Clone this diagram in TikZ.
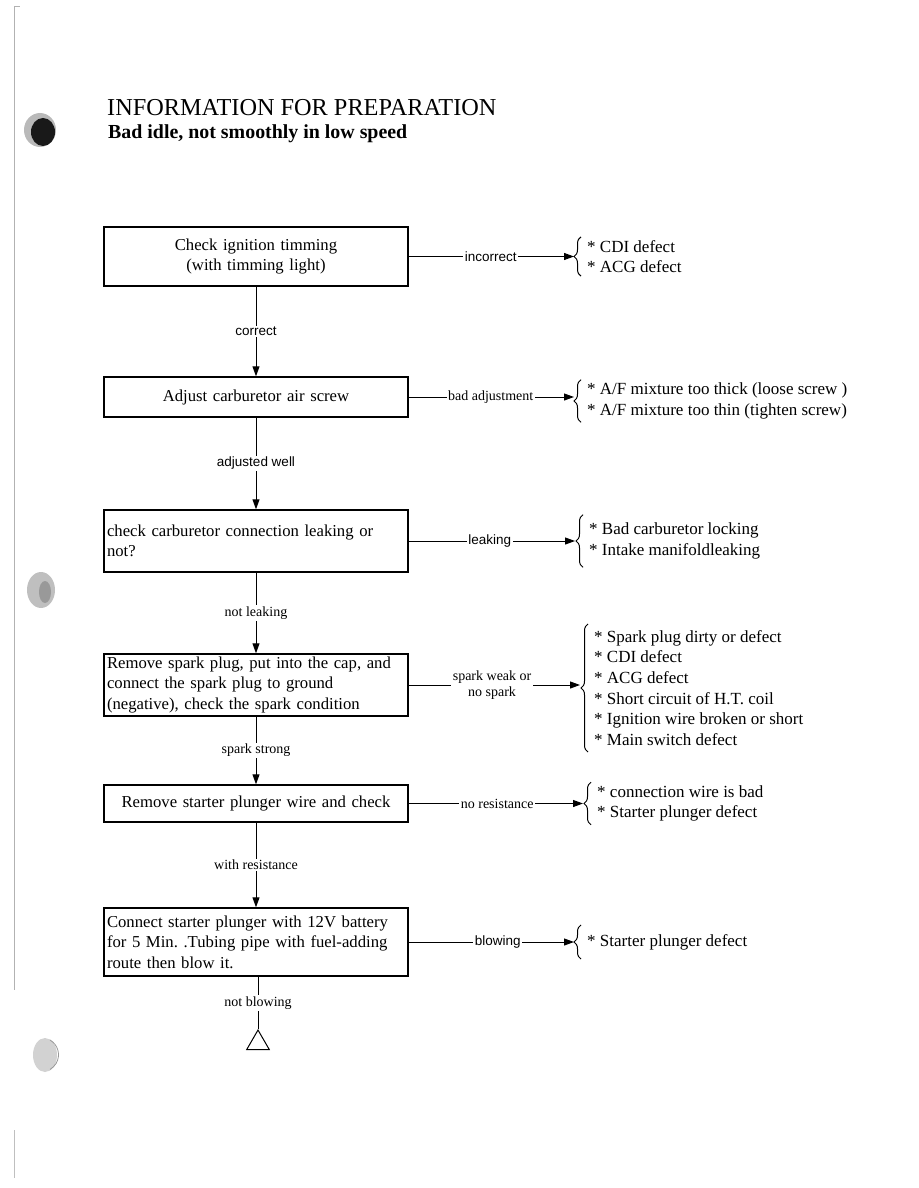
\documentclass[tikz,border=0pt]{standalone}
\usepackage{fontspec}
\setmainfont{Liberation Serif}
\newfontfamily\labsans{Liberation Sans}
\usetikzlibrary{arrows.meta,decorations.pathreplacing,calc,shapes.geometric}
\frenchspacing
\begin{document}
\begin{tikzpicture}[x=1pt,y=-1pt,
 stepbox/.style={draw, line width=1.4pt, minimum width=304pt, text width=298pt, inner xsep=3pt, inner ysep=0pt, font=\fontsize{16.7}{20.6}\selectfont},
 cbox/.style={stepbox, align=center},
 lbox/.style={stepbox, align=left},
 lab/.style={fill=white, inner sep=1.5pt, font=\fontsize{14}{15}\selectfont},
 slab/.style={lab, font=\labsans\fontsize{13.5}{14}\selectfont},
 flow/.style={line width=1pt, -{Triangle[length=10pt,width=7pt]}},
 items/.style={anchor=west, align=left, inner sep=0pt, font=\fontsize{17}{20.7}\selectfont},
 brc/.style={decorate, decoration={brace, amplitude=7pt}, line width=1pt},
]
\useasboundingbox (0,0) rectangle (918,1188);
% scan artifacts: page edge and punch holes
\draw[gray!60, line width=0.6pt] (14,6) -- (20,6);
\draw[gray!60, line width=0.6pt] (14,6) -- (14,990);
\draw[gray!50, line width=0.5pt] (14,1130) -- (14,1178);
\fill[gray!55] (40,130) ellipse [x radius=16pt, y radius=17pt];
\fill[black!90] (43,132) ellipse [x radius=12pt, y radius=14pt];
\fill[gray!50] (41,590) ellipse [x radius=14pt, y radius=18pt];
\fill[gray!80] (45,592) ellipse [x radius=6pt, y radius=11pt];
\fill[gray!35] (45,1055) ellipse [x radius=12pt, y radius=17pt];
\draw[gray!80, line width=0.8pt] (50,1040) arc [start angle=60, end angle=-60, radius=17pt];

% header
\node[anchor=base west, inner sep=0pt, font=\fontsize{24.3}{27}\selectfont] (title) at (107,116) {INFORMATION FOR PREPARATION};
\node[anchor=base west, inner sep=0pt, font=\bfseries\fontsize{19.9}{22}\selectfont] (sub) at (108,139) {Bad idle, not smoothly in low speed};

% boxes
\node[cbox, minimum height=59pt] (b1) at (256,256.5) {Check ignition timming\\(with timming light)};
\node[cbox, minimum height=40pt] (b2) at (256,397) {Adjust carburetor air screw};
\node[lbox, minimum height=62pt] (b3) at (256,541) {check carburetor connection leaking or\\not?};
\node[lbox, minimum height=62pt] (b4) at (256,685) {Remove spark plug, put into the cap, and\\connect the spark plug to ground\\(negative), check the spark condition};
\node[cbox, minimum height=37pt] (b5) at (256,803.5) {Remove starter plunger wire and check};
\node[lbox, minimum height=68pt] (b6) at (256,942) {Connect starter plunger with 12V battery\\for 5 Min. .Tubing pipe with fuel-adding\\route then blow it.};
\node[draw, line width=1pt, regular polygon, regular polygon sides=3, minimum size=26pt, inner sep=0pt] (tri) at (258,1043) {};

% vertical flow
\draw[flow] (b1) -- node[slab]{correct} (b2);
\draw[flow] (b2) -- node[slab]{adjusted well} (b3);
\draw[flow] (b3) -- node[lab]{not leaking} (b4);
\draw[flow] (b4) -- node[lab]{spark strong} (b5);
\draw[flow] (b5) -- node[lab]{with resistance} (b6);
\draw[line width=1pt] (b6.south -| tri.corner 1) -- node[lab]{not blowing} (tri.corner 1);

% result lists
\node[items] (l1) at (587,256.5) {* CDI defect\\* ACG defect};
\node[items] (l2) at (587,401) {* A/F mixture too thick (loose screw )\\* A/F mixture too thin (tighten screw)};
\node[items] (l3) at (589,541) {* Bad carburetor locking\\* Intake manifoldleaking};
\node[items] (l4) at (594,688) {* Spark plug dirty or defect\\* CDI defect\\* ACG defect\\* Short circuit of H.T. coil\\* Ignition wire broken or short\\* Main switch defect};
\node[items] (l5) at (597,803.5) {* connection wire is bad\\* Starter plunger defect};
\node[items] (l6) at (587,942) {* Starter plunger defect};

\foreach \l/\ex in {l1/3,l2/3,l3/8,l4/6,l5/3,l6/9}{
  \draw[brc] ($(\l.south west)+(-6,\ex)$) -- ($(\l.north west)+(-6,-\ex)$);
}

% horizontal flow
\draw[flow, shorten >=13pt] (b1) -- node[slab, pos=0.46]{incorrect} (b1 -| l1.west);
\draw[flow, shorten >=13pt] (b2) -- node[lab, pos=0.46]{bad adjustment} (b2 -| l2.west);
\draw[flow, shorten >=14pt] (b3) -- node[slab, pos=0.45]{leaking} (b3 -| l3.west);
\draw[flow, shorten >=14pt] (b4) -- node[lab, pos=0.45, align=center, font=\fontsize{14}{16}\selectfont]{spark weak or\\no spark} (b4 -| l4.west);
\draw[flow, shorten >=14pt] (b5) -- node[lab, pos=0.47]{no resistance} (b5 -| l5.west);
\draw[flow, shorten >=13pt] (b6) -- node[slab, pos=0.5]{blowing} (b6 -| l6.west);
\end{tikzpicture}
\end{document}
